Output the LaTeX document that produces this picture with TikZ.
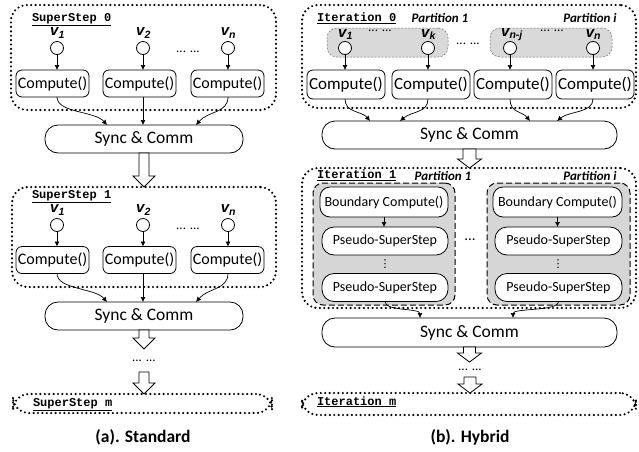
\documentclass[tikz,border=0pt]{standalone}
\usepackage{fontspec}
\setmainfont{Carlito}
\newfontfamily\codefont{Liberation Mono}
\newfontfamily\varfont{Liberation Sans}
\newfontfamily\symfont{DejaVu Sans}
\usetikzlibrary{arrows.meta,calc}

% hollow block arrow pointing down from #1 to #2:
% #3 half shaft width, #4 half head width, #5 head length
\newcommand\fatarrow[5]{%
  \draw[fatblock] let \p1=(#1), \p2=(#2) in
    (\x1-#3pt,\y1) -- (\x1-#3pt,\y2+#5pt) -- (\x1-#4pt,\y2+#5pt) -- (\x1,\y2)
    -- (\x1+#4pt,\y2+#5pt) -- (\x1+#3pt,\y2+#5pt) -- (\x1+#3pt,\y1) -- cycle;}

\begin{document}
\begin{tikzpicture}[x=1pt,y=-1pt,
  every node/.style={outer sep=0pt,inner sep=0pt},
  stepframe/.style={draw,line width=2.4pt,dash pattern=on 0pt off 4.4pt,line cap=round,rounded corners=16pt},
  steptitle/.style={anchor=base west,font=\codefont\bfseries\fontsize{12}{12}\selectfont},
  vertex/.style={draw,circle,fill=white,minimum size=13pt,line width=0.8pt},
  vname/.style={font=\varfont\bfseries\itshape\fontsize{15}{15}\selectfont},
  compute/.style={draw,rounded corners=6pt,minimum height=27pt,line width=0.8pt,fill=white,font=\fontsize{16}{16}\selectfont},
  sync/.style={draw,rounded corners=13pt,minimum height=28pt,line width=0.8pt,font=\fontsize{17.5}{17.5}\selectfont},
  link/.style={-{Latex[length=5pt,width=5pt]},line width=0.7pt},
  fatblock/.style={draw,line width=0.8pt,fill=white},
  ellip/.style={font=\fontsize{13}{13}\selectfont,text height=1.5pt,text depth=0pt},
  caption/.style={font=\bfseries\fontsize{17.5}{17.5}\selectfont},
  parttitle/.style={anchor=base,font=\bfseries\itshape\fontsize{13}{13}\selectfont},
  vgroup/.style={fill=gray!30,draw=gray!80!black,dash pattern=on 2pt off 1.5pt,line width=0.5pt,rounded corners=10pt},
  partbox/.style={fill=gray!32,draw,dash pattern=on 6pt off 3pt,line width=1pt,rounded corners=10pt},
  inner/.style={draw,fill=white,line width=0.8pt,font=\fontsize{14}{14}\selectfont},
  vdotsmark/.style={font=\symfont\fontsize{11}{11}\selectfont},
]
\useasboundingbox (0,0) rectangle (639,451);

% ---------------- (a) Standard ----------------
\node[stepframe,minimum width=265pt,minimum height=105pt] (ss0) at (143.5,57.5) {};
\node[steptitle] (ss0t) at (32,21.5) {\underline{SuperStep 0}};
\node[vertex] (a0v1) at (57,48) {};
\node[vertex] (a0v2) at (143,48) {};
\node[vertex] (a0vn) at (228,48) {};
\node[vname] (a0l1) at (57.5,33) {v\textsubscript{1}};
\node[vname] (a0l2) at (143.5,33) {v\textsubscript{2}};
\node[vname] (a0ln) at (228.5,33) {v\textsubscript{n}};
\node[ellip] (a0dots) at (188,52) {... ...};
\node[compute,minimum width=73pt] (a0c1) at (52.5,83.5) {Compute()};
\node[compute,minimum width=73pt] (a0c2) at (139.5,83.5) {Compute()};
\node[compute,minimum width=73pt] (a0c3) at (227.5,83.5) {Compute()};
\draw[link] (a0v1) -- (a0v1 |- a0c1.north);
\draw[link] (a0v2) -- (a0v2 |- a0c2.north);
\draw[link] (a0vn) -- (a0vn |- a0c3.north);
\node[sync,minimum width=198pt] (a0s) at (144,139) {Sync \& Comm};
\coordinate (a0e1) at (107,125);
\coordinate (a0e3) at (196,125);
\draw[link] (a0v1 |- a0c1.south) .. controls +(0,16) and +(-12,-14) .. (a0e1);
\draw[link] (a0v2 |- a0c2.south) -- (a0v2 |- a0s.north);
\draw[link] (a0vn |- a0c3.south) .. controls +(0,16) and +(12,-14) .. (a0e3);

\node[stepframe,minimum width=264pt,minimum height=100pt] (ss1) at (144,237) {};
\fatarrow{a0s.south}{ss1.north}{5}{11}{11}
\node[steptitle] (ss1t) at (32,198.5) {\underline{SuperStep 1}};
\node[vertex] (a1v1) at (57,225) {};
\node[vertex] (a1v2) at (143,225) {};
\node[vertex] (a1vn) at (228,225) {};
\node[vname] (a1l1) at (57.5,210) {v\textsubscript{1}};
\node[vname] (a1l2) at (143.5,210) {v\textsubscript{2}};
\node[vname] (a1ln) at (228.5,210) {v\textsubscript{n}};
\node[ellip] (a1dots) at (188,229) {... ...};
\node[compute,minimum width=73pt] (a1c1) at (52.5,260) {Compute()};
\node[compute,minimum width=73pt] (a1c2) at (139.5,260) {Compute()};
\node[compute,minimum width=73pt] (a1c3) at (227.5,260) {Compute()};
\draw[link] (a1v1) -- (a1v1 |- a1c1.north);
\draw[link] (a1v2) -- (a1v2 |- a1c2.north);
\draw[link] (a1vn) -- (a1vn |- a1c3.north);
\node[sync,minimum width=198pt] (a1s) at (144,316) {Sync \& Comm};
\coordinate (a1e1) at (107,302);
\coordinate (a1e3) at (196,302);
\draw[link] (a1v1 |- a1c1.south) .. controls +(0,16) and +(-12,-14) .. (a1e1);
\draw[link] (a1v2 |- a1c2.south) -- (a1v2 |- a1s.north);
\draw[link] (a1vn |- a1c3.south) .. controls +(0,16) and +(12,-14) .. (a1e3);

\node[ellip,minimum height=23pt] (adots) at (144,360.5) {... ...};
\node[stepframe,minimum width=259pt,minimum height=19pt] (ssm) at (142.5,403.5) {};
\fatarrow{a1s.south}{adots.north}{5}{11}{11}
\fatarrow{adots.south}{ssm.north}{5}{11}{11}
\node[steptitle] (ssmt) at (33,406.5) {\underline{SuperStep m}};
\node[caption] (capa) at (143,437) {(a). Standard};

% ---------------- (b) Hybrid ----------------
\node[stepframe,minimum width=334pt,minimum height=103pt] (it0) at (469,56.5) {};
\node[steptitle] (it0t) at (317,21.5) {\underline{Iteration 0}};
\node[parttitle] (p0a) at (440,22) {Partition 1};
\node[parttitle] (p0b) at (590,22) {Partition i};
\node[vgroup,minimum width=121pt,minimum height=29pt] (g1) at (387.5,42.5) {};
\node[vgroup,minimum width=122pt,minimum height=29pt] (g2) at (551,42.5) {};
\node[vertex] (b0v1) at (345,48) {};
\node[vertex] (b0vk) at (428,48) {};
\node[vertex] (b0vj) at (510,48) {};
\node[vertex] (b0vn) at (593,48) {};
\node[vname] (b0l1) at (345.5,34.5) {v\textsubscript{1}};
\node[vname] (b0lk) at (428.5,34.5) {v\textsubscript{k}};
\node[vname] (b0lj) at (512,34.5) {v\textsubscript{n-j}};
\node[vname] (b0ln) at (593.5,34.5) {v\textsubscript{n}};
\node[ellip] (g1dots) at (380,31) {... ...};
\node[ellip] (gdots) at (468,44) {... ...};
\node[ellip] (g2dots) at (552,31) {... ...};
\node[compute,minimum width=78pt,minimum height=29pt,font=\fontsize{17}{17}\selectfont] (b0c1) at (346,84.5) {Compute()};
\node[compute,minimum width=78pt,minimum height=29pt,font=\fontsize{17}{17}\selectfont] (b0c2) at (431,84.5) {Compute()};
\node[compute,minimum width=78pt,minimum height=29pt,font=\fontsize{17}{17}\selectfont] (b0c3) at (513,84.5) {Compute()};
\node[compute,minimum width=78pt,minimum height=29pt,font=\fontsize{17}{17}\selectfont] (b0c4) at (595,84.5) {Compute()};
\draw[link] (b0v1) -- (b0v1 |- b0c1.north);
\draw[link] (b0vk) -- (b0vk |- b0c2.north);
\draw[link] (b0vj) -- (b0vj |- b0c3.north);
\draw[link] (b0vn) -- (b0vn |- b0c4.north);
\node[sync,minimum width=295pt] (b0s) at (469.5,135) {Sync \& Comm};
\coordinate (b0e1) at (370,121);
\coordinate (b0e2) at (400,121);
\coordinate (b0e3) at (530,121);
\coordinate (b0e4) at (557,121);
\draw[link] (b0v1 |- b0c1.south) .. controls +(0,14) and +(-8,-10) .. (b0e1);
\draw[link] (b0vk |- b0c2.south) .. controls +(0,14) and +(12,-10) .. (b0e2);
\draw[link] (b0vj |- b0c3.south) .. controls +(0,14) and +(-8,-10) .. (b0e3);
\draw[link] (b0vn |- b0c4.south) .. controls +(0,14) and +(12,-10) .. (b0e4);

\node[stepframe,minimum width=334pt,minimum height=140pt] (it1) at (469,238) {};
\fatarrow{b0s.south}{it1.north}{6.5}{12}{9}
\node[steptitle] (it1t) at (317,178.5) {\underline{Iteration 1}};
\node[parttitle] (p1a) at (443,180) {Partition 1};
\node[parttitle] (p1b) at (590,180) {Partition i};
\node[partbox,minimum width=142pt,minimum height=122pt] (pr1) at (384,244) {};
\node[partbox,minimum width=143pt,minimum height=122pt] (pr2) at (558.5,244) {};
\node[inner,rounded corners=10pt,minimum width=128pt,minimum height=30pt] (bd1) at (384,202) {Boundary Compute()};
\node[inner,rounded corners=10pt,minimum width=129pt,minimum height=30pt] (bd2) at (557.5,202) {Boundary Compute()};
\node[inner,rounded corners=12pt,minimum width=126pt,minimum height=28pt] (ps1a) at (385,241) {Pseudo-SuperStep};
\node[inner,rounded corners=12pt,minimum width=126pt,minimum height=28pt] (ps1b) at (385,287.5) {Pseudo-SuperStep};
\node[inner,rounded corners=12pt,minimum width=127pt,minimum height=28pt] (ps2a) at (558.5,241) {Pseudo-SuperStep};
\node[inner,rounded corners=12pt,minimum width=127pt,minimum height=28pt] (ps2b) at (558.5,287.5) {Pseudo-SuperStep};
\draw[link] (bd1.south) -- (bd1.south |- ps1a.north);
\draw[link] (bd2.south) -- (bd2.south |- ps2a.north);
\node[vdotsmark] (vd1) at (385,264) {⋮};
\node[vdotsmark] (vd2) at (558,264) {⋮};
\node[font=\fontsize{15}{15}\selectfont] (pdots) at (470,240) {...};
\node[sync,minimum width=295pt,minimum height=29pt] (b1s) at (469.5,332.5) {Sync \& Comm};
\coordinate (b1e1) at (420,318);
\coordinate (b1e2) at (513,318);
\draw[link] (ps1b.south) .. controls +(0,10) and +(0,-10) .. (b1e1);
\draw[link] (ps2b.south) .. controls +(0,10) and +(0,-10) .. (b1e2);

\node[ellip,minimum height=15pt] (bdots) at (470,369.5) {... ...};
\node[stepframe,minimum width=334pt,minimum height=22pt] (itm) at (469,404) {};
\fatarrow{b1s.south}{bdots.north}{6}{12}{9}
\fatarrow{bdots.south}{itm.north}{6}{12}{9}
\node[steptitle] (itmt) at (317,405) {\underline{Iteration m}};
\node[caption] (capb) at (470,437) {(b). Hybrid};
\end{tikzpicture}
\end{document}
